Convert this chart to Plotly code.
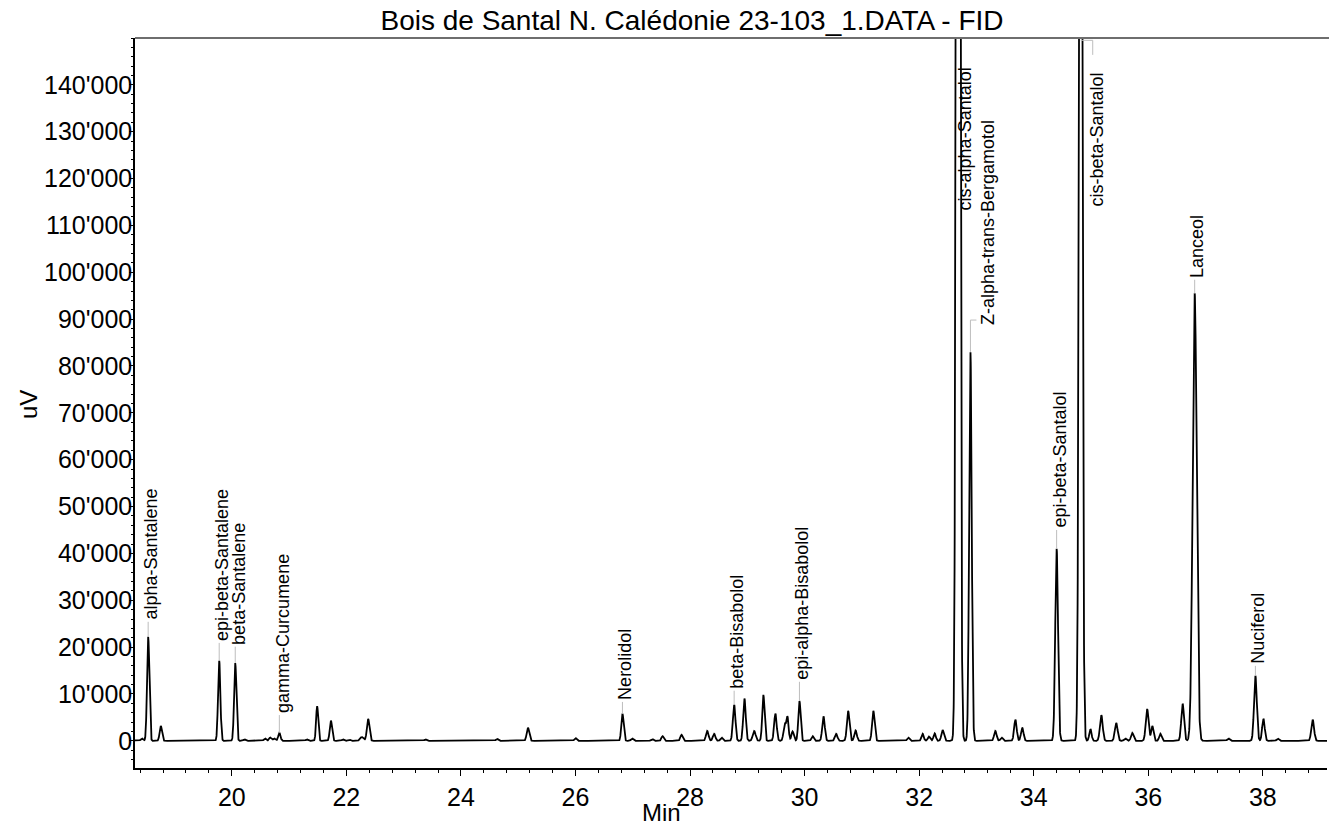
import numpy as np
import plotly.graph_objects as go

# ---- data ----
peak_times = [18.43, 18.54, 18.76, 19.78, 20.06, 20.22, 20.58, 20.67, 20.74, 20.83,
              21.31, 21.49, 21.73, 21.94, 22.05, 22.27, 22.38, 23.38, 24.63, 25.17,
              26.00, 26.82, 26.99, 27.34, 27.52, 27.85, 28.30, 28.42, 28.55, 28.77,
              28.95, 29.12, 29.28, 29.49, 29.65, 29.70, 29.79, 29.91, 30.14, 30.33,
              30.55, 30.76, 30.89, 31.20, 31.81, 32.06, 32.17, 32.27, 32.41, 32.68,
              32.895, 33.33, 33.44, 33.68, 33.80, 34.40, 34.82, 34.99, 35.18, 35.44,
              35.60, 35.72, 35.98, 36.07, 36.21, 36.60, 36.81, 37.40, 37.87, 38.01,
              38.26, 38.87]
peak_heights = [500, 22200, 3200, 17100, 16600, 300, 500, 700, 500, 1700,
                300, 7400, 4300, 300, 300, 800, 4700, 300, 400, 2800,
                600, 5800, 500, 400, 1000, 1300, 2100, 1500, 700, 7700,
                9000, 2100, 9800, 5800, 3400, 5100, 2000, 8500, 1000, 5200,
                1500, 6400, 2200, 6400, 700, 1500, 900, 1600, 2300, 630000,
                83000, 2100, 700, 4500, 2800, 41000, 300000, 2500, 5500, 3800,
                500, 1700, 6800, 3200, 1500, 7900, 95500, 500, 13900, 4700,
                500, 4500]
peak_sigmas = [0.02, 0.02, 0.02, 0.02, 0.02, 0.02, 0.02, 0.02, 0.02, 0.02,
               0.02, 0.018, 0.02, 0.02, 0.02, 0.03, 0.022, 0.02, 0.02, 0.022,
               0.02, 0.02, 0.02, 0.02, 0.02, 0.02, 0.022, 0.022, 0.02, 0.022,
               0.022, 0.025, 0.02, 0.022, 0.02, 0.02, 0.02, 0.02, 0.02, 0.022,
               0.022, 0.022, 0.022, 0.022, 0.02, 0.02, 0.02, 0.02, 0.022, 0.026,
               0.022, 0.022, 0.02, 0.022, 0.022, 0.024, 0.025, 0.02, 0.024, 0.024,
               0.02, 0.022, 0.024, 0.02, 0.02, 0.024, 0.035, 0.02, 0.024, 0.022,
               0.02, 0.024]

label_names = ["alpha-Santalene", "epi-beta-Santalene", "beta-Santalene", "gamma-Curcumene",
               "Nerolidol", "beta-Bisabolol", "epi-alpha-Bisabolol", "cis-alpha-Santalol",
               "Z-alpha-trans-Bergamotol", "epi-beta-Santalol", "cis-beta-Santalol",
               "Lanceol", "Nuciferol"]
label_peak_x = [18.54, 19.78, 20.06, 20.83, 26.82, 28.77, 29.91, 32.68, 32.895, 34.40, 34.82, 36.81, 37.87]
label_peak_y = [22200, 17100, 16600, 1700, 5800, 7700, 8500, 150000, 83000, 41000, 150000, 95500, 13900]
label_x = [18.54, 19.78, 20.06, 20.83, 26.82, 28.77, 29.91, 32.75, 33.14, 34.40, 35.06, 36.81, 37.87]
label_y = [25400, 20900, 20100, 5500, 8300, 10700, 12600, 112700, 88300, 45000, 113700, 98400, 16000]

x_ticks = [20, 22, 24, 26, 28, 30, 32, 34, 36, 38]
y_ticks = [0, 10000, 20000, 30000, 40000, 50000, 60000, 70000,
           80000, 90000, 100000, 110000, 120000, 130000, 140000]

# ---- build trace ----
t = np.arange(18.2, 39.2, 0.002)
signal = np.zeros_like(t)
for c, h, s in zip(peak_times, peak_heights, peak_sigmas):
    signal += h * np.exp(-0.5 * ((t - c) / s) ** 2)

FONT = "Liberation Sans, Arial, sans-serif"
fig = go.Figure()
fig.add_trace(go.Scatter(x=t, y=signal, mode="lines",
                         line=dict(color="black", width=1.8), hoverinfo="skip"))

# leader lines
lx, ly = [], []
for name, px, py, tx, ty in zip(label_names, label_peak_x, label_peak_y, label_x, label_y):
    if name == "Z-alpha-trans-Bergamotol":
        lx += [px, px, 33.0, None]
        ly += [py, ty + 1500, ty + 1500, None]
    elif name == "cis-beta-Santalol":
        lx += [px, 35.03, 35.03, None]
        ly += [149500, 149500, 146400, None]
    elif name == "cis-alpha-Santalol":
        continue
    else:
        lx += [px, px, None]
        ly += [py, ty, None]
fig.add_trace(go.Scatter(x=lx, y=ly, mode="lines",
                         line=dict(color="#bdbdbd", width=1), hoverinfo="skip"))

for name, tx, ty in zip(label_names, label_x, label_y):
    fig.add_annotation(x=tx, y=ty, text=name, textangle=-90, showarrow=False,
                       xanchor="center", yanchor="bottom", xshift=3,
                       font=dict(family=FONT, size=18, color="black"))

fig.add_shape(type="line", xref="paper", yref="paper", x0=0, x1=1.01, y0=1, y1=1,
              line=dict(color="#6e6e6e", width=2))

# axis titles as free text
fig.add_annotation(xref="paper", yref="paper", x=(661 - 135) / 1192, y=-(812 - 768) / 730,
                   text="Min", showarrow=False, xanchor="center", yanchor="middle",
                   font=dict(family=FONT, size=24, color="black"))
fig.add_annotation(xref="paper", yref="paper", x=-(135 - 28) / 1192, y=(768 - 405) / 730,
                   text="uV", textangle=-90, showarrow=False, xanchor="center", yanchor="middle",
                   font=dict(family=FONT, size=24, color="black"))

fig.update_layout(
    width=1329, height=825,
    margin=dict(l=135, r=2, t=38, b=57, autoexpand=False),
    paper_bgcolor="white", plot_bgcolor="white",
    separators=".'",
    showlegend=False,
    font=dict(family=FONT, color="black"),
    title=dict(text="Bois de Santal N. Calédonie 23-103_1.DATA - FID",
               xref="container", yref="container", x=692 / 1329, y=1 - 20 / 825,
               xanchor="center", yanchor="middle",
               font=dict(family=FONT, size=28, color="black")),
    xaxis=dict(range=[18.31, 39.12], tickvals=x_ticks, ticks="outside", ticklen=6,
               tickcolor="black", minor=dict(dtick=0.4, tick0=20, ticks="outside", ticklen=3, tickcolor="black"),
               showline=True, linecolor="black", linewidth=1.5, showgrid=False, zeroline=False,
               automargin=False, ticklabelstandoff=0,
               tickfont=dict(family=FONT, size=25)),
    yaxis=dict(range=[-5800, 150000], tickvals=y_ticks, tickformat=",d",
               ticks="outside", ticklen=4, tickcolor="black",
               minor=dict(dtick=2000, tick0=0, ticks="outside", ticklen=2, tickcolor="black"),
               showline=True, linecolor="black", linewidth=1.5, showgrid=False, zeroline=False,
               automargin=False, ticklabelstandoff=-8,
               tickfont=dict(family=FONT, size=25)),
)

fig.write_html("out.html", config={"displayModeBar": False},
               post_script="document.body.style.margin='0';document.body.style.overflow='hidden';")
